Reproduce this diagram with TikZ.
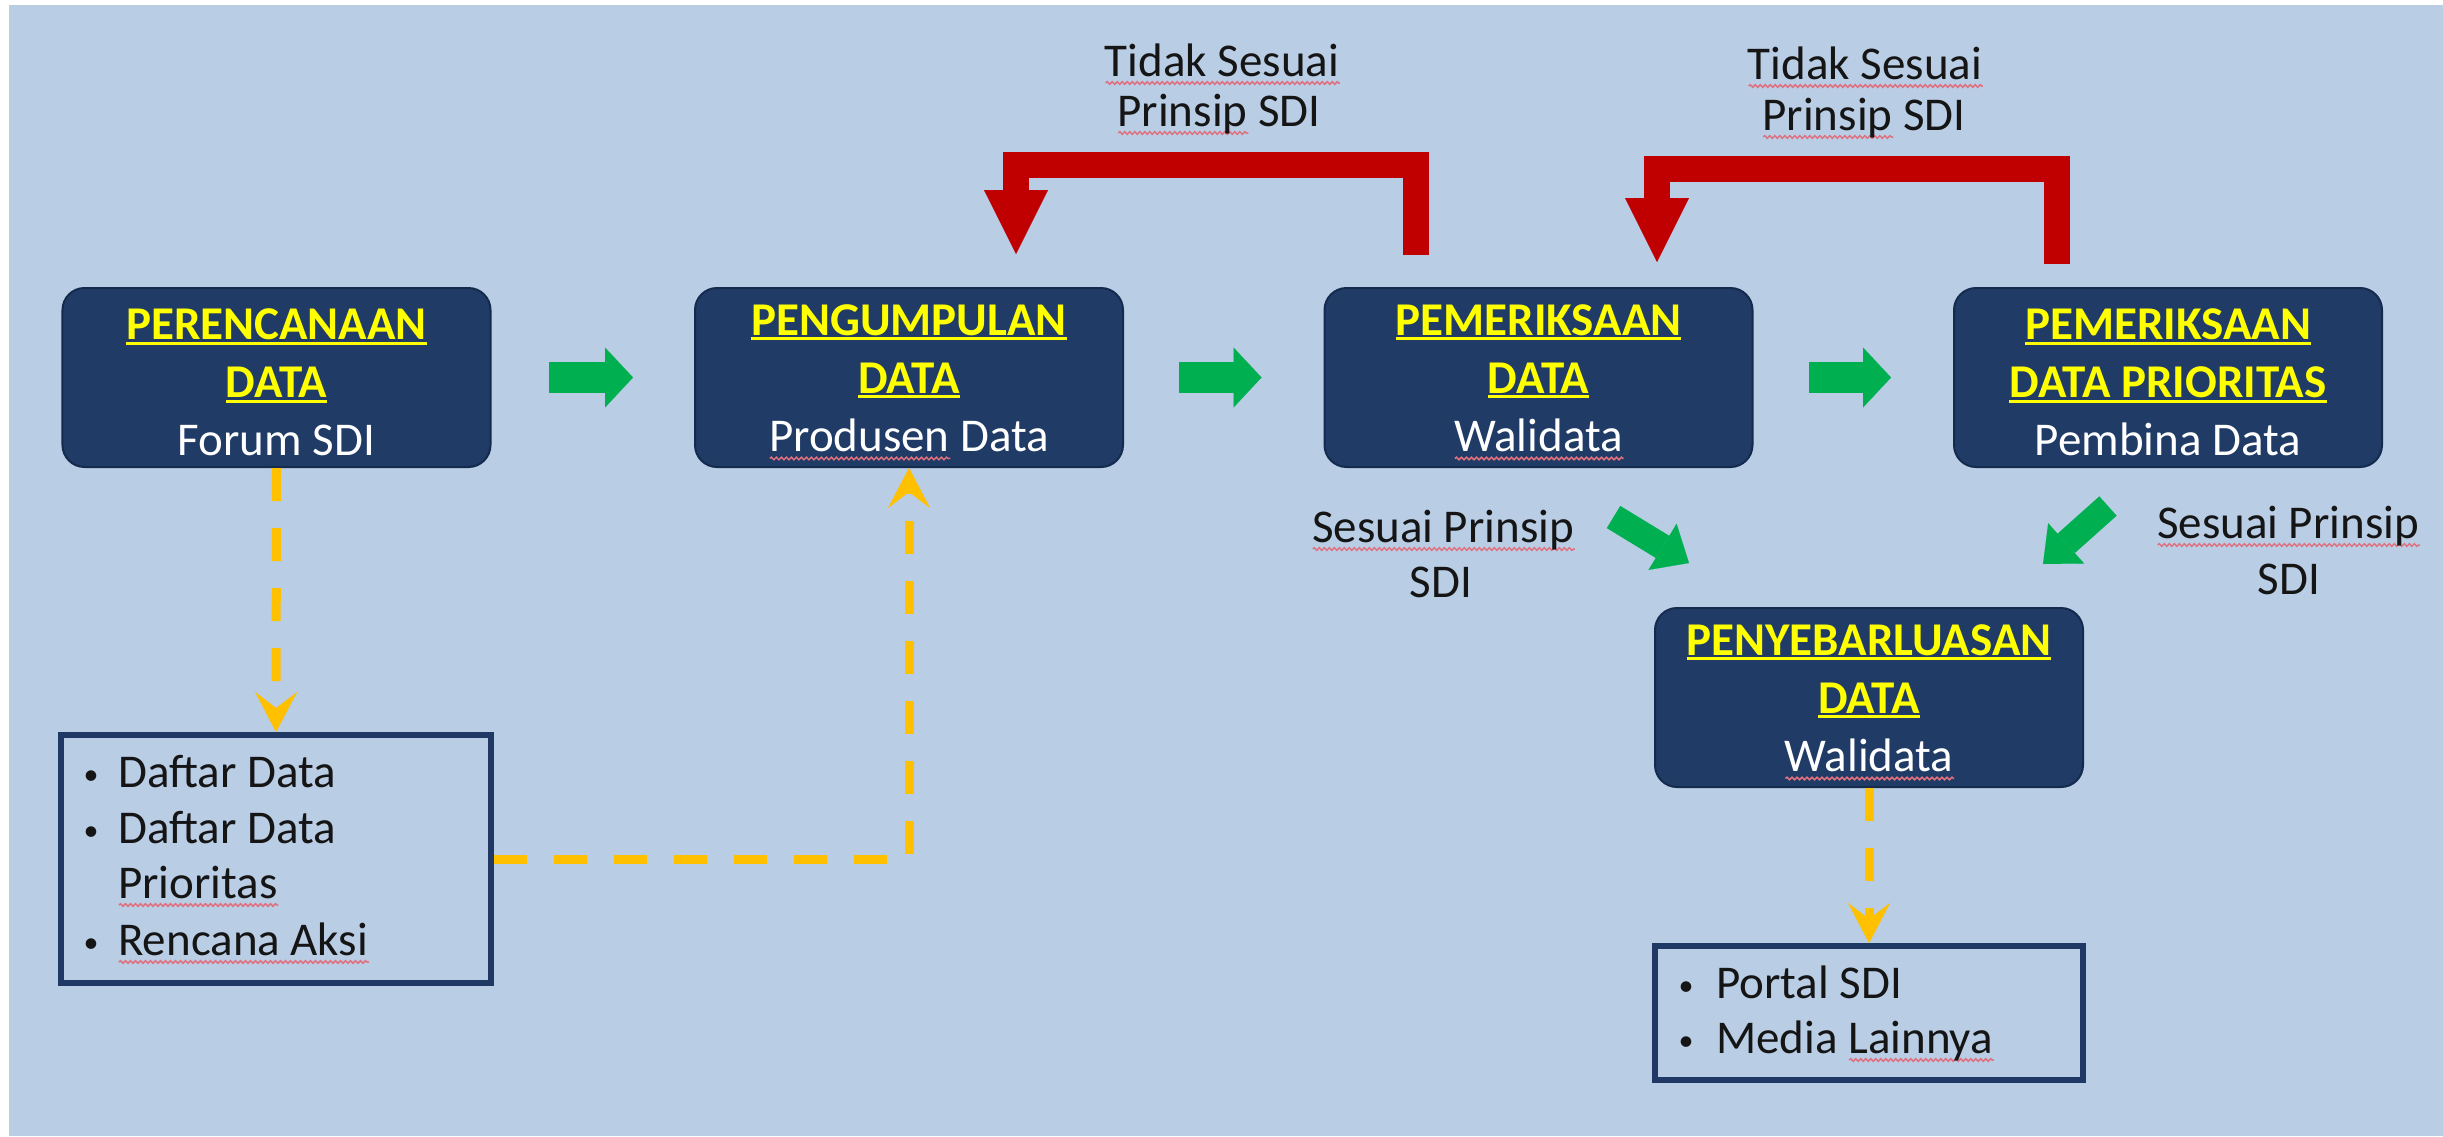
\documentclass[tikz,border=0pt]{standalone}
\usepackage{fontspec}
\setmainfont{Carlito}
\usetikzlibrary{arrows.meta,calc,decorations.pathmorphing}
\definecolor{bgblue}{HTML}{B9CDE5}
\definecolor{boxblue}{HTML}{1F3B66}
\definecolor{boxline}{HTML}{142B4E}
\definecolor{ttlyellow}{HTML}{FFFF00}
\definecolor{arrgreen}{HTML}{00B050}
\definecolor{arrred}{HTML}{C00000}
\definecolor{dashyel}{HTML}{FFC000}
\definecolor{listline}{HTML}{1F3864}
\definecolor{spellred}{HTML}{E0707E}
\definecolor{txtdark}{HTML}{151515}

\newsavebox\sqbox
\newsavebox\ulbox
\newlength\sqlen
\newcommand\sq[1]{\sbox\sqbox{#1}\setlength\sqlen{\wd\sqbox}\rlap{\tikz[baseline=0pt]\draw[spellred,sharp corners,solid,line width=1.5bp,decorate,decoration={snake,amplitude=1.3bp,segment length=5bp}] (0bp,-7bp)--(\sqlen,-7bp);}\usebox\sqbox}
\newcommand\yul[1]{\sbox\ulbox{#1}\rlap{\rule[-5bp]{\wd\ulbox}{3bp}}\usebox\ulbox}
\newcommand\ttl[1]{{\bfseries\color{ttlyellow}\yul{#1}}}
\newcommand\tstrut{\rule{0pt}{41bp}}

\tikzset{
  procbox/.style={rectangle, rounded corners=22bp, fill=boxblue, draw=boxline, line width=2bp,
    minimum width=428bp, minimum height=179bp, align=center, inner sep=0pt,
    font=\fontsize{47bp}{58bp}\selectfont, text=white},
  listbox/.style={rectangle, draw=listline, line width=6bp, inner sep=0pt},
  listtxt/.style={anchor=base west, inner sep=0pt, text=txtdark, font=\fontsize{47bp}{56bp}\selectfont},
  bul/.style={anchor=base, inner sep=0pt, text=txtdark, font=\fontsize{30bp}{36bp}\selectfont},
  lbl/.style={anchor=base, inner sep=0pt, text=txtdark, font=\fontsize{47bp}{50bp}\selectfont},
  greenarrow/.style={draw=arrgreen, line width=31bp, -{Triangle[length=28bp,width=60bp,line width=0.1bp]}},
  diagarrow/.style={draw=arrgreen, line width=26bp, -{Triangle[length=31bp,width=54bp,line width=0.1bp]}},
  redarrow/.style={draw=arrred, line width=26bp, line join=miter, -{Triangle[length=64bp,width=64bp,line width=0.1bp]}},
  dasharrow/.style={draw=dashyel, line width=9bp, dash pattern=on 33bp off 27bp,
    -{Stealth[length=40bp,width=42bp,inset=16bp,line width=0.1bp]}},
}

\begin{document}
\begin{tikzpicture}[x=1bp,y=-1bp]
\useasboundingbox (0,0) rectangle (2443,1136);
\fill[white] (0,0) rectangle (2443,1136);
\fill[bgblue] (9,5) rectangle (2443,1136);

% process boxes
\node[procbox] (b1) at (276.5,377.5) {\tstrut\ttl{PERENCANAAN}\\ \ttl{DATA}\\ Forum SDI};
\node[procbox] (b2) at (909,377.5) {\tstrut\ttl{PENGUMPULAN}\\ \ttl{DATA}\\ \sq{Produsen} Data};
\node[procbox] (b3) at (1538.5,377.5) {\tstrut\ttl{PEMERIKSAAN}\\ \ttl{DATA}\\ \sq{Walidata}};
\node[procbox] (b4) at (2168,377.5) {\tstrut\ttl{PEMERIKSAAN}\\ \ttl{DATA PRIORITAS}\\ Pembina Data};
\node[procbox] (b5) at (1869,697.5) {\tstrut\ttl{PENYEBARLUASAN}\\ \ttl{DATA}\\ \sq{Walidata}};

% list boxes
\node[listbox, minimum width=430bp, minimum height=248bp] (l1) at (276,859) {};
\node[bul] (l1b1) at (91,784) {•};
\node[listtxt] (l1t1) at (118,787) {Daftar Data};
\node[bul] (l1b2) at (91,840) {•};
\node[listtxt] (l1t2) at (118,843) {Daftar Data};
\node[listtxt] (l1t3) at (118,898) {\sq{Prioritas}};
\node[bul] (l1b4) at (91,952) {•};
\node[listtxt] (l1t4) at (118,955) {\sq{Rencana Aksi}};

\node[listbox, minimum width=428bp, minimum height=134bp] (l2) at (1869,1013) {};
\node[bul] (l2b1) at (1686,995) {•};
\node[listtxt] (l2t1) at (1716,998) {Portal SDI};
\node[bul] (l2b2) at (1686,1050) {•};
\node[listtxt] (l2t2) at (1716,1053) {Media \sq{Lainnya}};

% labels
\node[lbl] (t1a) at (1222,76) {\sq{Tidak Sesuai}};
\node[lbl] (t1b) at (1219,126) {\sq{Prinsip} SDI};
\node[lbl] (t2a) at (1865,79) {\sq{Tidak Sesuai}};
\node[lbl] (t2b) at (1864,130) {\sq{Prinsip} SDI};
\node[lbl] (s1a) at (1443,542) {\sq{Sesuai Prinsip}};
\node[lbl] (s1b) at (1441,597) {SDI};
\node[lbl] (s2a) at (2288,538) {\sq{Sesuai Prinsip}};
\node[lbl] (s2b) at (2289,594) {SDI};

% green arrows
\draw[greenarrow] ([xshift=57bp]b1.east) -- ([xshift=-61bp]b2.west);
\draw[greenarrow] ([xshift=55bp]b2.east) -- ([xshift=-62bp]b3.west);
\draw[greenarrow] ([xshift=55bp]b3.east) -- ([xshift=-62bp]b4.west);
\draw[diagarrow] ($(b3.south)+(75,49)$) -- ($(b5.north)+(-180,-44)$);
\draw[diagarrow] ($(b4.south)+(-60,38)$) -- ($(b5.north)+(174,-43)$);

% red feedback arrows
\draw[redarrow] ($(b3.north)+(-123,-32)$) -- ++(0,-90) -| ($(b2.north)+(107,-33)$);
\draw[redarrow] ($(b4.north)+(-111,-23)$) -- ++(0,-95) -| ($(b3.north)+(118.5,-25)$);

% dashed arrows
\draw[dasharrow] (b1.south) -- (l1.north);
\draw[dasharrow] (l1.east) -| (b2.south);
\draw[dasharrow] (b5.south) -- (l2.north);
\end{tikzpicture}
\end{document}
